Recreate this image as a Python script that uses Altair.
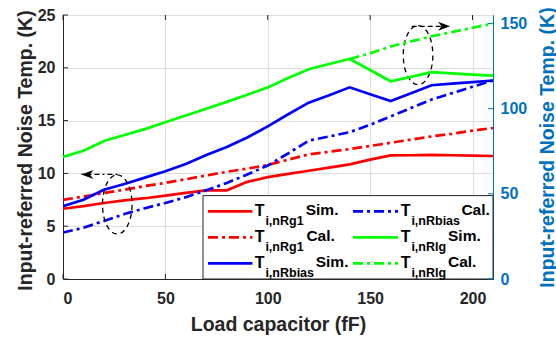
import altair as alt
import pandas as pd

# ---------------- data ----------------
load_cap = [0, 10, 20, 30, 40, 50, 60, 70, 80, 90, 100, 110, 120, 130, 140, 150, 160, 170, 180, 190, 200, 210]
t_rg1_sim = [6.65, 6.9, 7.2, 7.45, 7.65, 7.9, 8.15, 8.4, 8.4, 9.2, 9.65, 9.95, 10.25, 10.55, 10.85, 11.3, 11.7, 11.72, 11.75, 11.72, 11.68, 11.65]
t_rg1_cal = [7.5, 7.8, 8.15, 8.45, 8.8, 9.1, 9.45, 9.8, 10.15, 10.45, 10.8, 11.3, 11.8, 12.05, 12.3, 12.6, 12.9, 13.2, 13.5, 13.75, 14.05, 14.3]
t_rbias_sim = [6.9, 7.5, 8.45, 9.0, 9.6, 10.2, 10.9, 11.75, 12.5, 13.4, 14.45, 15.6, 16.7, 17.4, 18.15, 17.5, 16.85, 17.6, 18.35, 18.5, 18.65, 18.8]
t_rbias_cal = [4.4, 4.85, 5.5, 6.15, 6.7, 7.2, 7.75, 8.4, 9.1, 9.9, 10.75, 11.9, 13.1, 13.5, 13.9, 14.6, 15.4, 16.2, 17.0, 17.6, 18.2, 18.8]
t_rlg_sim = [71.7, 75.3, 81, 84.5, 88, 92, 96, 100, 104, 108.2, 112.5, 118, 123.2, 126.2, 129.2, 122.7, 116.1, 118.7, 121.4, 120.7, 120, 119.4]
load_cap_rlg_cal = [140, 150, 160, 170, 180, 190, 200, 210]
t_rlg_cal = [129.2, 132.5, 136.5, 139.5, 142.5, 145, 147.5, 150]

x_ticks = [0, 50, 100, 150, 200]
left_ticks = [0, 5, 10, 15, 20, 25]
right_ticks = [0, 50, 100, 150]

# annotation anchors (data coordinates)
ellipse_x = [26.5, 173.4]
ellipse_y = [7.06, 21.2]
arrow_left = {"x1": [9.0], "x2": [26.5], "y": [9.9]}
arrow_right = {"x1": [170.3], "x2": [186.5], "y": [23.93]}

# ---------------- style ----------------
FONT = "Liberation Sans"
W, H = 430, 264
AX = "#262626"
BLUE_AX = "#0072BD"
RED, BLUE, GREEN = "#FF0000", "#0000FF", "#00FF00"
DASHDOT = [10, 4, 3, 4]
LW = 2.7
TITLE_FS = 19.5

xscale = alt.Scale(domain=[0, 210], nice=False)
lscale = alt.Scale(domain=[0, 25], nice=False)
rscale = alt.Scale(domain=[0, 155], nice=False)

x_axis = alt.Axis(values=x_ticks, title="Load capacitor (fF)", grid=True, ticks=False,
                  gridColor="#dedede", domainColor=AX, labelColor=AX, labelFont=FONT,
                  labelFontSize=16, labelFontWeight="bold", labelPadding=11,
                  titleFont=FONT, titleFontSize=TITLE_FS, titleFontWeight="bold", titleColor=AX,
                  titleX=W / 2, titleY=51.5, titleBaseline="alphabetic", titleAlign="center")
l_axis = alt.Axis(values=left_ticks, title="Input-referred Noise Temp. (K)", grid=True, ticks=False,
                  gridColor="#dedede", domainColor=AX, labelColor=AX, labelFont=FONT,
                  labelFontSize=16, labelFontWeight="bold", labelPadding=8,
                  titleFont=FONT, titleFontSize=TITLE_FS, titleFontWeight="bold", titleColor=AX,
                  titleAngle=270, titleX=-38, titleY=H / 2 + 3, titleAlign="center", titleBaseline="middle")
r_axis = alt.Axis(values=right_ticks, orient="right", title="Input-referred Noise Temp. (K)", grid=False,
                  ticks=False, domainColor=BLUE_AX, labelColor=BLUE_AX, labelFont=FONT,
                  labelFontSize=16, labelFontWeight="bold", labelPadding=7,
                  titleFont=FONT, titleFontSize=TITLE_FS, titleFontWeight="bold", titleColor=BLUE_AX,
                  titleAngle=270, titleX=54, titleY=H / 2, titleAlign="center", titleBaseline="middle")


def series_df(xs, ys):
    return pd.DataFrame({"x": xs, "v": ys})


def left_line(ys, color, dash=None):
    kw = dict(color=color, strokeWidth=LW, clip=True)
    if dash:
        kw["strokeDash"] = dash
    return alt.Chart(series_df(load_cap, ys)).mark_line(**kw).encode(
        x=alt.X("x:Q", scale=xscale, axis=x_axis),
        y=alt.Y("v:Q", scale=lscale, axis=l_axis),
    )


def right_line(xs, ys, color, dash=None):
    kw = dict(color=color, strokeWidth=LW, clip=True)
    if dash:
        kw["strokeDash"] = dash
    return alt.Chart(series_df(xs, ys)).mark_line(**kw).encode(
        x=alt.X("x:Q", scale=xscale, axis=x_axis),
        y=alt.Y("v:Q", scale=rscale, axis=r_axis),
    )


# inward tick marks
xt = pd.DataFrame({"x": x_ticks})
lt = pd.DataFrame({"v": left_ticks})
rt = pd.DataFrame({"v": right_ticks})
tick_bottom = alt.Chart(xt).mark_rule(color=AX, strokeWidth=1).encode(
    x=alt.X("x:Q", scale=xscale, axis=x_axis), y=alt.value(H), y2=alt.value(H - 5))
tick_top = alt.Chart(xt).mark_rule(color=AX, strokeWidth=1).encode(
    x=alt.X("x:Q", scale=xscale, axis=x_axis), y=alt.value(0), y2=alt.value(5))
tick_left = alt.Chart(lt).mark_rule(color=AX, strokeWidth=1).encode(
    y=alt.Y("v:Q", scale=lscale, axis=l_axis), x=alt.value(0), x2=alt.value(5))
tick_right = alt.Chart(rt).mark_rule(color=BLUE_AX, strokeWidth=1).encode(
    y=alt.Y("v:Q", scale=rscale, axis=r_axis), x=alt.value(W), x2=alt.value(W - 5))

# annotations: dashed ellipses and arrows
ELLIPSE = "M 0 -1 A 0.5 1 0 1 1 0 1 A 0.5 1 0 1 1 0 -1 Z"
ell = alt.Chart(pd.DataFrame({"x": ellipse_x, "v": ellipse_y})).mark_point(
    shape=ELLIPSE, size=3500, filled=False, stroke="black", strokeWidth=1.3,
    strokeDash=[5, 4], opacity=1).encode(
    x=alt.X("x:Q", scale=xscale, axis=x_axis), y=alt.Y("v:Q", scale=lscale, axis=l_axis))

arr1 = alt.Chart(pd.DataFrame(arrow_left)).mark_rule(color="black", strokeWidth=1.3, strokeDash=[5, 3, 2, 3]).encode(
    x=alt.X("x1:Q", scale=xscale, axis=x_axis), x2="x2:Q", y=alt.Y("y:Q", scale=lscale, axis=l_axis))
arr2 = alt.Chart(pd.DataFrame(arrow_right)).mark_rule(color="black", strokeWidth=1.3, strokeDash=[5, 3]).encode(
    x=alt.X("x1:Q", scale=xscale, axis=x_axis), x2="x2:Q", y=alt.Y("y:Q", scale=lscale, axis=l_axis))
HEAD_L = "M 0 0 L 2 -0.75 L 1.4 0 L 2 0.75 Z"
HEAD_R = "M 0 0 L -2 -0.75 L -1.4 0 L -2 0.75 Z"
head1 = alt.Chart(pd.DataFrame({"x": arrow_left["x1"], "v": arrow_left["y"]})).mark_point(
    shape=HEAD_L, size=144, filled=True, color="black", opacity=1).encode(
    x=alt.X("x:Q", scale=xscale, axis=x_axis), y=alt.Y("v:Q", scale=lscale, axis=l_axis))
head2 = alt.Chart(pd.DataFrame({"x": [189.0], "v": arrow_right["y"]})).mark_point(
    shape=HEAD_R, size=144, filled=True, color="black", opacity=1).encode(
    x=alt.X("x:Q", scale=xscale, axis=x_axis), y=alt.Y("v:Q", scale=lscale, axis=l_axis))

# ---------------- legend (drawn by hand for subscripts) ----------------
legend_layers = []
box = alt.Chart(pd.DataFrame({"a": [0]})).mark_rect(fill="white", stroke=AX, strokeWidth=1).encode(
    x=alt.value(140), x2=alt.value(W), y=alt.value(180.6), y2=alt.value(H))
legend_layers.append(box)

entries = [
    # (col, row, color, dash, subscript, suffix, suffix_x)
    (0, 0, RED, None, "i,nRg1", "Sim.", 242.7),
    (0, 1, RED, DASHDOT, "i,nRg1", "Cal.", 243.4),
    (0, 2, BLUE, None, "i,nRbias", "Sim.", 252.7),
    (1, 0, BLUE, DASHDOT, "i,nRbias", "Cal.", 398.4),
    (1, 1, GREEN, None, "i,nRlg", "Sim.", 385.0),
    (1, 2, GREEN, DASHDOT, "i,nRlg", "Cal.", 385.0),
]
row_y = [196.3, 222.3, 248.3]
line_x = [(145, 189.4), (290, 335)]
t_x = [191.7, 337.7]
sub_x = [202.4, 348.4]
one = pd.DataFrame({"a": [0]})
for col, row, color, dash, sub, suf, sx in entries:
    kw = dict(color=color, strokeWidth=LW)
    if dash:
        kw["strokeDash"] = dash
    legend_layers.append(alt.Chart(one).mark_rule(**kw).encode(
        x=alt.value(line_x[col][0]), x2=alt.value(line_x[col][1]), y=alt.value(row_y[row])))
    base_y = row_y[row] + 4.5
    legend_layers.append(alt.Chart(one).mark_text(
        text="T", font=FONT, fontSize=16, fontWeight="bold", color="black", align="left",
        baseline="alphabetic").encode(x=alt.value(t_x[col]), y=alt.value(base_y)))
    legend_layers.append(alt.Chart(one).mark_text(
        text=sub, font=FONT, fontSize=12.5, fontWeight="bold", color="black", align="left",
        baseline="alphabetic").encode(x=alt.value(sub_x[col]), y=alt.value(base_y + 9)))
    legend_layers.append(alt.Chart(one).mark_text(
        text=suf, font=FONT, fontSize=15.5, fontWeight="bold", color="black", align="left",
        baseline="alphabetic").encode(x=alt.value(sx), y=alt.value(base_y - 0.5)))

left_group = alt.layer(
    tick_bottom, tick_top, tick_left,
    left_line(t_rg1_sim, RED),
    left_line(t_rg1_cal, RED, DASHDOT),
    left_line(t_rbias_sim, BLUE),
    left_line(t_rbias_cal, BLUE, DASHDOT),
    ell, arr1, arr2, head1, head2,
    *legend_layers,
)
right_group = alt.layer(
    tick_right,
    right_line(load_cap, t_rlg_sim, GREEN),
    right_line(load_cap_rlg_cal, t_rlg_cal, GREEN, DASHDOT),
)

chart = alt.layer(left_group, right_group).resolve_scale(y="independent").properties(
    width=W, height=H,
    autosize=alt.AutoSizeParams(type="none"),
    padding={"left": 63, "top": 15, "right": 63, "bottom": 58},
    background="white",
).configure_view(stroke=AX, strokeWidth=1)

chart.save("out.html", embed_options={"renderer": "svg", "actions": False})
